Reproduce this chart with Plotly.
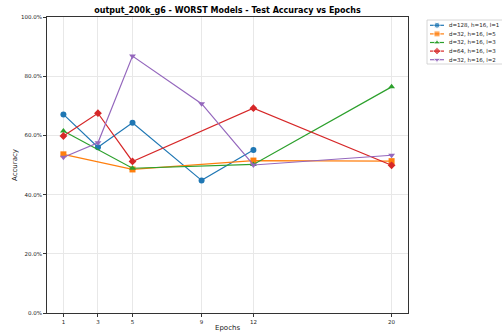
import plotly.graph_objects as go

# Data
names = ["d=128, h=16, l=1", "d=32, h=16, l=5", "d=32, h=16, l=3", "d=64, h=16, l=3", "d=32, h=16, l=2"]
epochs_1 = [1, 3, 5, 9, 12]
acc_1 = [67.1, 56.0, 64.3, 44.8, 55.1]
epochs_2 = [1, 5, 12, 20]
acc_2 = [53.6, 48.5, 51.5, 51.3]
epochs_3 = [1, 5, 12, 20]
acc_3 = [61.5, 48.9, 50.2, 76.4]
epochs_4 = [1, 3, 5, 12, 20]
acc_4 = [59.8, 67.5, 51.2, 69.2, 49.9]
epochs_5 = [1, 3, 5, 9, 12, 20]
acc_5 = [52.6, 57.5, 86.8, 70.7, 50.0, 53.3]
tick_epochs = [1, 3, 5, 9, 12, 20]
y_ticks = [0, 20, 40, 60, 80, 100]
y_tick_labels = ["0.0%", "20.0%", "40.0%", "60.0%", "80.0%", "100.0%"]

colors = ["#1f77b4", "#ff7f0e", "#2ca02c", "#d62728", "#9467bd"]
symbols = ["circle", "square", "triangle-up", "diamond", "triangle-down"]
series = [(epochs_1, acc_1), (epochs_2, acc_2), (epochs_3, acc_3), (epochs_4, acc_4), (epochs_5, acc_5)]

W, H = 502, 334
ML, MT, MB = 47, 17, 21
PW = W - ML            # paper width (r margin = 0)
PH = H - MT - MB       # paper height
plot_right = 408

def px_x(p):
    return (p - ML) / PW

def px_y(p):
    return (H - MB - p) / PH

fig = go.Figure()
for (xs, ys), name, c, s in zip(series, names, colors, symbols):
    fig.add_trace(go.Scatter(
        x=xs, y=ys, name=name, mode="lines+markers",
        line=dict(color=c, width=1.2),
        marker=dict(color=c, symbol=s, size=6),
        showlegend=False,
    ))

# custom compact legend (matplotlib style) on a helper axis
leg_x0, leg_x1, leg_y0, leg_y1 = 427, 502, 20, 64
for i, (name, c, s) in enumerate(zip(names, colors, symbols)):
    yy = 5.3 + 8.6 * i
    fig.add_trace(go.Scatter(
        x=[3, 10, 17], y=[yy, yy, yy], mode="lines+markers",
        line=dict(color=c, width=1.2),
        marker=dict(color=c, symbol=s, size=[0, 6, 0]),
        xaxis="x2", yaxis="y2", showlegend=False, hoverinfo="skip",
    ))
    fig.add_annotation(x=20, y=yy, xref="x2", yref="y2", text=name,
                       showarrow=False, xanchor="left", yanchor="middle",
                       font=dict(size=5.5, color="#222"))

fig.add_shape(type="rect", xref="paper", yref="paper",
              x0=px_x(leg_x0), x1=px_x(leg_x1) + 0.01, y0=px_y(leg_y1), y1=px_y(leg_y0),
              line=dict(color="#cccccc", width=0.8), fillcolor="white", layer="below")

font_family = "DejaVu Sans"
fig.update_layout(
    width=W, height=H,
    margin=dict(l=ML, r=0, t=MT, b=MB),
    paper_bgcolor="white", plot_bgcolor="white",
    font=dict(family=font_family, size=6, color="#222"),
    title=dict(text="<b>output_200k_g6 - WORST Models - Test Accuracy vs Epochs</b>",
               x=(ML + (ML + plot_right) / 2 - ML) / W, xanchor="center", y=1 - 10 / H, yanchor="middle",
               font=dict(size=8, color="black")),
    showlegend=False,
    xaxis2=dict(domain=[px_x(leg_x0), 1.0], range=[0, W - leg_x0], visible=False, fixedrange=True),
    yaxis2=dict(domain=[px_y(leg_y1), px_y(leg_y0)], range=[leg_y1 - leg_y0, 0], visible=False,
                anchor="x2", fixedrange=True),
)
fig.update_xaxes(selector=dict(anchor="y"))
fig.update_layout(
    xaxis=dict(
        domain=[0, px_x(plot_right)],
        range=[0.05, 20.95], tickmode="array", tickvals=tick_epochs,
        showgrid=True, gridcolor="#e8e8e8", gridwidth=1,
        showline=True, linecolor="#333", linewidth=1, mirror=True,
        ticks="outside", ticklen=3, tickcolor="#333", zeroline=False,
        tickfont=dict(size=5.5), automargin=False,
    ),
    yaxis=dict(
        range=[0, 100], tickmode="array", tickvals=y_ticks, ticktext=y_tick_labels,
        showgrid=True, gridcolor="#e8e8e8", gridwidth=1,
        showline=True, linecolor="#333", linewidth=1, mirror=True,
        ticks="outside", ticklen=3, tickcolor="#333", zeroline=False,
        tickfont=dict(size=5.5), automargin=False,
    ),
)
fig.add_annotation(text="Epochs", xref="paper", yref="paper",
                   x=px_x((ML + plot_right) / 2), y=px_y(328), showarrow=False,
                   xanchor="center", yanchor="middle", font=dict(size=7, color="#222"))
fig.add_annotation(text="Accuracy", xref="paper", yref="paper",
                   x=px_x(15), y=px_y(165), showarrow=False, textangle=-90,
                   xanchor="center", yanchor="middle", font=dict(size=7, color="#222"))

fig.write_html("out.html")
